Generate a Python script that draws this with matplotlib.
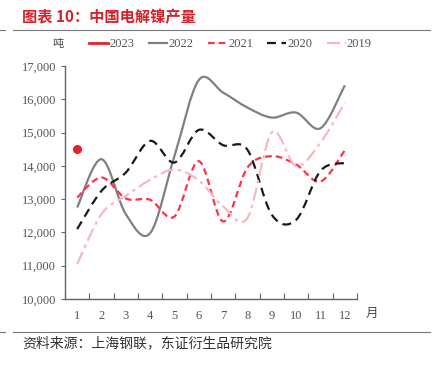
import numpy as np
import matplotlib.pyplot as plt
from matplotlib.path import Path
from matplotlib.patches import PathPatch
from matplotlib.lines import Line2D

plt.rcParams['font.family'] = ['Liberation Serif', 'Noto Sans CJK SC']

months = list(range(1, 13))
y2023 = [14500]
y2022 = [12750, 14200, 12550, 11980, 14300, 16580, 16200, 15750, 15450, 15600, 15130, 16420]
y2021 = [13050, 13650, 13020, 12980, 12480, 14140, 12330, 13950, 14290, 14040, 13530, 14470]
y2020 = [12100, 13250, 13800, 14750, 14100, 15080, 14620, 14480, 12530, 12380, 13850, 14090]
y2019 = [11050, 12550, 13100, 13580, 13890, 13560, 12780, 12440, 15000, 14000, 14700, 15900]

series = [
    ("2023", y2023, "#e8202a", "-", 2.0),
    ("2022", y2022, "#808080", "-", 1.6),
    ("2021", y2021, "#ff3344", (0, (3, 1.8)), 1.6),
    ("2020", y2020, "#1a1a1a", (0, (4, 2.5)), 1.6),
    ("2019", y2019, "#f8b8be", (0, (6, 2, 1.5, 2)), 1.6),
]


def smooth_path(xs, ys):
    # Excel-like smoothed line: cubic Bezier through points
    pts = np.column_stack([xs, ys]).astype(float)
    verts = [pts[0]]
    codes = [Path.MOVETO]
    n = len(pts)
    for i in range(n - 1):
        p0 = pts[i - 1] if i > 0 else pts[i]
        p1 = pts[i]
        p2 = pts[i + 1]
        p3 = pts[i + 2] if i + 2 < n else pts[i + 1]
        c1 = p1 + (p2 - p0) / 6.0
        c2 = p2 - (p3 - p1) / 6.0
        verts += [c1, c2, p2]
        codes += [Path.CURVE4] * 3
    return Path(verts, codes)


fig = plt.figure(figsize=(4.42, 3.66), dpi=100)
ax = fig.add_axes([65 / 442, 1 - 299 / 366, (357 - 65) / 442, (299 - 66) / 366])

handles = []
for name, ys, color, ls, lw in series:
    if len(ys) > 1:
        patch = PathPatch(smooth_path(months[:len(ys)], ys), facecolor='none',
                          edgecolor=color, lw=lw, linestyle=ls)
        ax.add_patch(patch)
    else:
        ax.plot(months[:len(ys)], ys, 'o', color=color, ms=5.5)
    handles.append(Line2D([], [], color=color, lw=lw, linestyle=ls))

ax.set_xlim(0.5, 12.5)
ax.set_ylim(10000, 17000)
ax.set_xticks(np.arange(0.5, 13, 1))
ax.set_xticklabels([])
ax.set_xticks(months, minor=True)
ax.set_xticklabels([str(m) for m in months], minor=True)
ax.tick_params(axis='x', which='minor', length=0, labelsize=9, colors='#555555', pad=8)
ax.tick_params(axis='x', which='major', length=4, direction='in', color='#5a6a6a')
ax.set_yticks(range(10000, 17001, 1000))
ax.set_yticklabels([f"{v:,}" for v in range(10000, 17001, 1000)])
ax.tick_params(axis='y', length=3, direction='out', labelsize=9, colors='#555555', color='#5a6a6a')
for s in ['top', 'right']:
    ax.spines[s].set_visible(False)
for s in ['left', 'bottom']:
    ax.spines[s].set_color('#5a6a6a')
    ax.spines[s].set_linewidth(1.0)
ax.patch.set_alpha(0)

fig.text(366 / 442, 1 - 313 / 366, "月", fontsize=9, color='#444444',
         family=['Noto Sans CJK SC'], ha='left', va='center')
fig.text(52 / 442, 1 - 44 / 366, "吨", fontsize=8, color='#444444',
         family=['Noto Sans CJK SC'], ha='left', va='center')

fig.legend(handles, [s[0] for s in series], loc='center left',
           bbox_to_anchor=(78 / 442, 1 - 44 / 366), ncol=5, frameon=False,
           fontsize=9, handlelength=1.5, handletextpad=0.1, columnspacing=1.15,
           labelcolor='#555555')

fig.text(22 / 442, 1 - 17 / 366, "图表 10：中国电解镍产量", fontsize=11, color='#d6202a',
         fontweight='bold', family=['Noto Sans CJK SC'], ha='left', va='center')
for yy in (30, 332):
    fig.lines.append(Line2D([0, 5 / 442], [1 - yy / 366] * 2, color='#777777', lw=0.8, transform=fig.transFigure))
    fig.lines.append(Line2D([13 / 442, 430 / 442], [1 - yy / 366] * 2, color='#777777', lw=0.8, transform=fig.transFigure))
fig.text(22 / 442, 1 - 343 / 366, "资料来源：上海钢联，东证衍生品研究院", fontsize=10, color='#333333',
         family=['Noto Sans CJK SC'], ha='left', va='center')

fig.savefig("out.png", dpi=100)
